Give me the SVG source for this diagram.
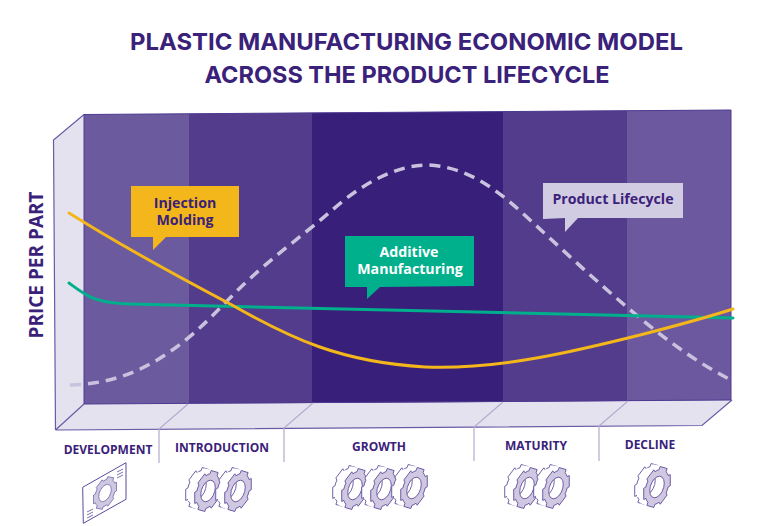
<svg xmlns="http://www.w3.org/2000/svg" xmlns:xlink="http://www.w3.org/1999/xlink" width="767" height="526" viewBox="0 0 767 526">
<style>
text{font-family:"Open Sans","Liberation Sans",sans-serif;font-weight:700;fill:#3a2179;text-anchor:middle}
.title{font-family:Inter,"Open Sans",sans-serif;font-size:23.5px;font-weight:700}
.phase{font-size:12px}
.call{font-size:14.2px}
.tick{fill:none;stroke:#b5abd0;stroke-width:1.2}
.curve{fill:none;stroke-width:3;stroke-linecap:round}
.g-line{stroke:#5b4a9c;stroke-width:.8;fill:none}
</style>
<defs>
<path id="gp" fill-rule="evenodd" d="M16.9-6.2L20.1-6.1L20.1 6.1L16.9 6.2A18 18 0 0 1 13.8 11.5L15.3 14.4L4.8 20.5L3.1 17.7A18 18 0 0 1-3.1 17.7L-4.8 20.5L-15.3 14.4L-13.8 11.5A18 18 0 0 1-16.9 6.2L-20.1 6.1L-20.1-6.1L-16.9-6.2A18 18 0 0 1-13.8-11.5L-15.3-14.4L-4.8-20.5L-3.1-17.7A18 18 0 0 1 3.1-17.7L4.8-20.5L15.3-14.4L13.8-11.5A18 18 0 0 1 16.9-6.2ZM11 0A11 11 0 1 0-11 0A11 11 0 1 0 11 0Z"/>
<g id="gear">
<use xlink:href="#gp" href="#gp" transform="translate(-9 -3) matrix(.66 -.34 0 .92 0 0)" fill="#fff" stroke="#5b4a9c" stroke-width="1"/>
<use xlink:href="#gp" href="#gp" transform="translate(-6.75 -2.25) matrix(.66 -.34 0 .92 0 0)" fill="#fff"/>
<use xlink:href="#gp" href="#gp" transform="translate(-4.5 -1.5) matrix(.66 -.34 0 .92 0 0)" fill="#fff"/>
<use xlink:href="#gp" href="#gp" transform="translate(-2.25 -.75) matrix(.66 -.34 0 .92 0 0)" fill="#fff"/>
<use xlink:href="#gp" href="#gp" transform="matrix(.66 -.34 0 .92 0 0)" fill="#cfc8e0" stroke="#5b4a9c" stroke-width="1"/>
</g>
</defs>

<g id="title">
<text class="title" x="406.5" y="50" textLength="553" lengthAdjust="spacingAndGlyphs">PLASTIC MANUFACTURING ECONOMIC MODEL</text>
<text class="title" x="407" y="83">ACROSS THE PRODUCT LIFECYCLE</text>
</g>

<g id="chart">
<polygon points="53.5,140 84,114.5 84,404 55.5,430" fill="#e5e2ef" stroke="none"/>
<path d="M55.5 430L53.5 140L84 114.5" fill="none" stroke="#6a5aa5" stroke-width="1.2"/>
<polygon points="55.5,430 84,404 732,400 702,425.5" fill="#e5e2ef"/>
<path d="M55.5 430L84 404M732 400L702 425.5L55.5 430" fill="none" stroke="#6a5aa5" stroke-width="1.2"/>
<polygon points="84,114.5 189,113.7 189,403.5 84,404" fill="#6c5a9f"/>
<polygon points="189,113.7 312,112.8 312,403 189,403.5" fill="#533c8b"/>
<polygon points="312,112.8 503,111.5 503,402 312,403" fill="#381f7a"/>
<polygon points="503,111.5 627,110.6 627,401 503,402" fill="#533c8b"/>
<polygon points="627,110.6 731,110 731,400 627,401" fill="#6c589e"/>
<path d="M84 114.5L731 110V400L84 404Z" fill="none" stroke="#4d3a91" stroke-width="1"/>
</g>

<g id="connectors">
<path class="tick" d="M188 404L159 429V463"/>
<path class="tick" d="M313 403L284 428V462"/>
<path class="tick" d="M503 402L474 427V461"/>
<path class="tick" d="M628 401L599 426V461"/>
<path fill="none" stroke-width="3.5" stroke="#c9c2de" stroke-dasharray="11 7" d="M70 385C105 384 135 375 165 355C195 335 210 318 232 296C265 262 300 238 330 212C360 185 395 165 428 165C470 167 500 192 530 220C565 252 600 285 640 318C670 343 700 364 729 379"/>
<path class="curve" stroke="#00b08c" d="M69 283C88 297 95 303 130 304C200 306 400 311 733 318"/>
<path class="curve" stroke="#f3b61b" d="M69 213C120 245 175 275 232 305C290 338 340 362 425 367C500 370 580 350 640 335C675 326 705 318 733 309"/>
</g>

<g id="label-injection">
<polygon points="131,186 239,186 239,237 166,237 153,250 153,237 131,237" fill="#f3b61b"/>
<text class="call" x="185" y="208">Injection</text>
<text class="call" x="185" y="225">Molding</text>
</g>
<g id="label-additive">
<polygon points="345,236 474,236 474,286 380,287 367,299 367,287 345,287" fill="#00b08c"/>
<text class="call" x="409" y="257" style="fill:#fff">Additive</text>
<text class="call" x="410" y="274" style="fill:#fff">Manufacturing</text>
</g>
<g id="label-lifecycle">
<polygon points="543,183 683,183 683,218 578,218 565,232 565,218 543,219" fill="#d2cce3"/>
<text class="call" x="613" y="204">Product Lifecycle</text>
</g>

<g id="axis-label">
<text x="37" y="265" transform="rotate(-90 37 265) translate(0 6)" font-size="19" font-weight="600">PRICE PER PART</text>
</g>

<g id="phase-development">
<text class="phase" x="108" y="454">DEVELOPMENT</text>
<polygon points="82.7,487.3 126,462.7 126,499.3 83.3,523.3" fill="#fff" stroke="#5b4a9c" stroke-width="1"/>
<use xlink:href="#gp" href="#gp" transform="translate(105 493) matrix(.57 -.32 0 .72 0 0)" fill="#cfc8e0" stroke="#5b4a9c" stroke-width=".9"/>
<path class="g-line" d="M117 472L123 469M117 475L123 472M117 478L123 475M87 515L93 512M87 512L93 509M87 518L93 515"/>
</g>
<g id="phase-introduction">
<text class="phase" x="222" y="452">INTRODUCTION</text>
<use xlink:href="#gear" href="#gear" x="208" y="491"/>
<use xlink:href="#gear" href="#gear" x="238" y="491"/>
</g>
<g id="phase-growth">
<text class="phase" x="379" y="451">GROWTH</text>
<use xlink:href="#gear" href="#gear" x="355" y="489"/>
<use xlink:href="#gear" href="#gear" x="384" y="489"/>
<use xlink:href="#gear" href="#gear" x="414" y="488"/>
</g>
<g id="phase-maturity">
<text class="phase" x="536" y="450">MATURITY</text>
<use xlink:href="#gear" href="#gear" x="527" y="488"/>
<use xlink:href="#gear" href="#gear" x="556" y="488"/>
</g>
<g id="phase-decline">
<text class="phase" x="650" y="449">DECLINE</text>
<use xlink:href="#gear" href="#gear" x="657" y="487"/>
</g>
</svg>
